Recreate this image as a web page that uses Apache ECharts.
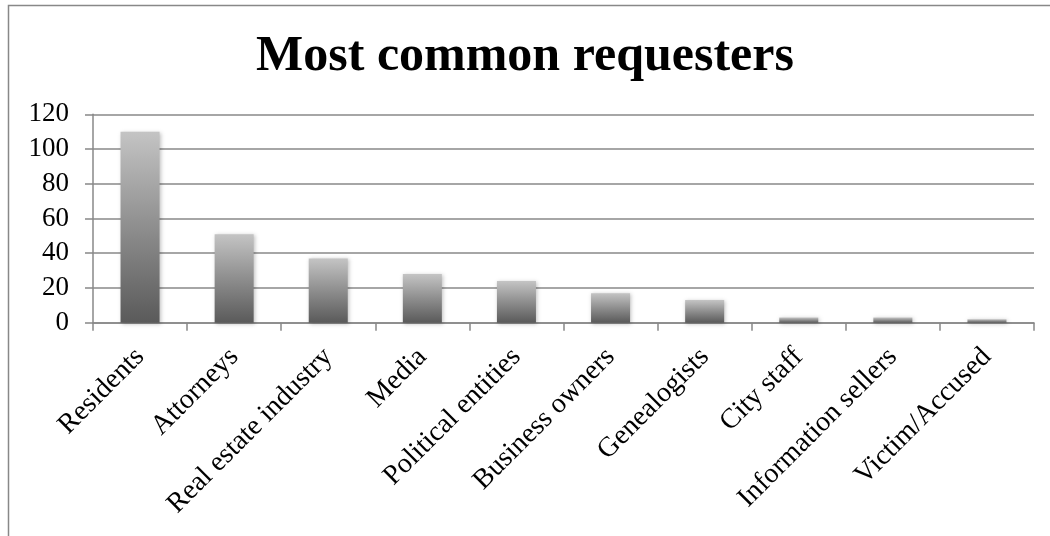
<!DOCTYPE html>
<html>
<head>
<meta charset="utf-8">
<script src="https://cdn.jsdelivr.net/npm/echarts@6/dist/echarts.min.js"></script>
<style>html,body{margin:0;padding:0;background:#fff;}#c{width:1050px;height:536px;}</style>
</head>
<body>
<div id="c"></div>
<script>
const categories = ["Residents", "Attorneys", "Real estate industry", "Media", "Political entities", "Business owners", "Genealogists", "City staff", "Information sellers", "Victim/Accused"];
const requesters = [110, 51, 37, 28, 24, 17, 13, 3, 3, 2];
const yTicks = [0, 20, 40, 60, 80, 100, 120];
const titleText = "Most common requesters";

const chart = echarts.init(document.getElementById('c'), null, {renderer: 'canvas'});
const serif = "'Liberation Serif', 'DejaVu Serif', serif";
chart.setOption({
  animation: false,
  backgroundColor: '#fff',
  title: {
    text: titleText,
    left: 'center',
    top: 27,
    textStyle: {fontFamily: serif, fontWeight: 'bold', fontSize: 50, color: '#000'}
  },
  graphic: [{
    type: 'rect', silent: true,
    shape: {x: 8.5, y: 5.5, width: 1060, height: 560},
    style: {fill: 'none', stroke: '#888', lineWidth: 1.5}
  }],
  grid: {left: 93, right: 16, top: 114.3, bottom: 213.3},
  xAxis: {
    type: 'category',
    data: categories,
    axisLine: {lineStyle: {color: '#888', width: 1.5}},
    axisTick: {show: true, length: 8, alignWithLabel: false, lineStyle: {color: '#888', width: 1.5}},
    axisLabel: {rotate: 45, margin: 30, fontFamily: serif, fontSize: 28, color: '#000', interval: 0}
  },
  yAxis: {
    type: 'value',
    min: yTicks[0], max: yTicks[yTicks.length - 1], interval: 20,
    axisLine: {show: true, lineStyle: {color: '#888', width: 1.5}},
    axisTick: {show: true, length: 8, lineStyle: {color: '#888', width: 1.5}},
    splitLine: {lineStyle: {color: '#888', width: 1.5}},
    axisLabel: {margin: 24, fontFamily: serif, fontSize: 27, color: '#000'}
  },
  series: [{
    type: 'bar',
    data: requesters,
    barWidth: 39,
    itemStyle: {
      color: new echarts.graphic.LinearGradient(0, 0, 0, 1, [
        {offset: 0, color: '#c4c4c4'},
        {offset: 0.5, color: '#8e8e8e'},
        {offset: 1, color: '#5a5a5a'}
      ]),
      shadowBlur: 4, shadowColor: 'rgba(0,0,0,0.25)', shadowOffsetX: 1, shadowOffsetY: 1
    }
  }]
});
</script>
</body>
</html>
